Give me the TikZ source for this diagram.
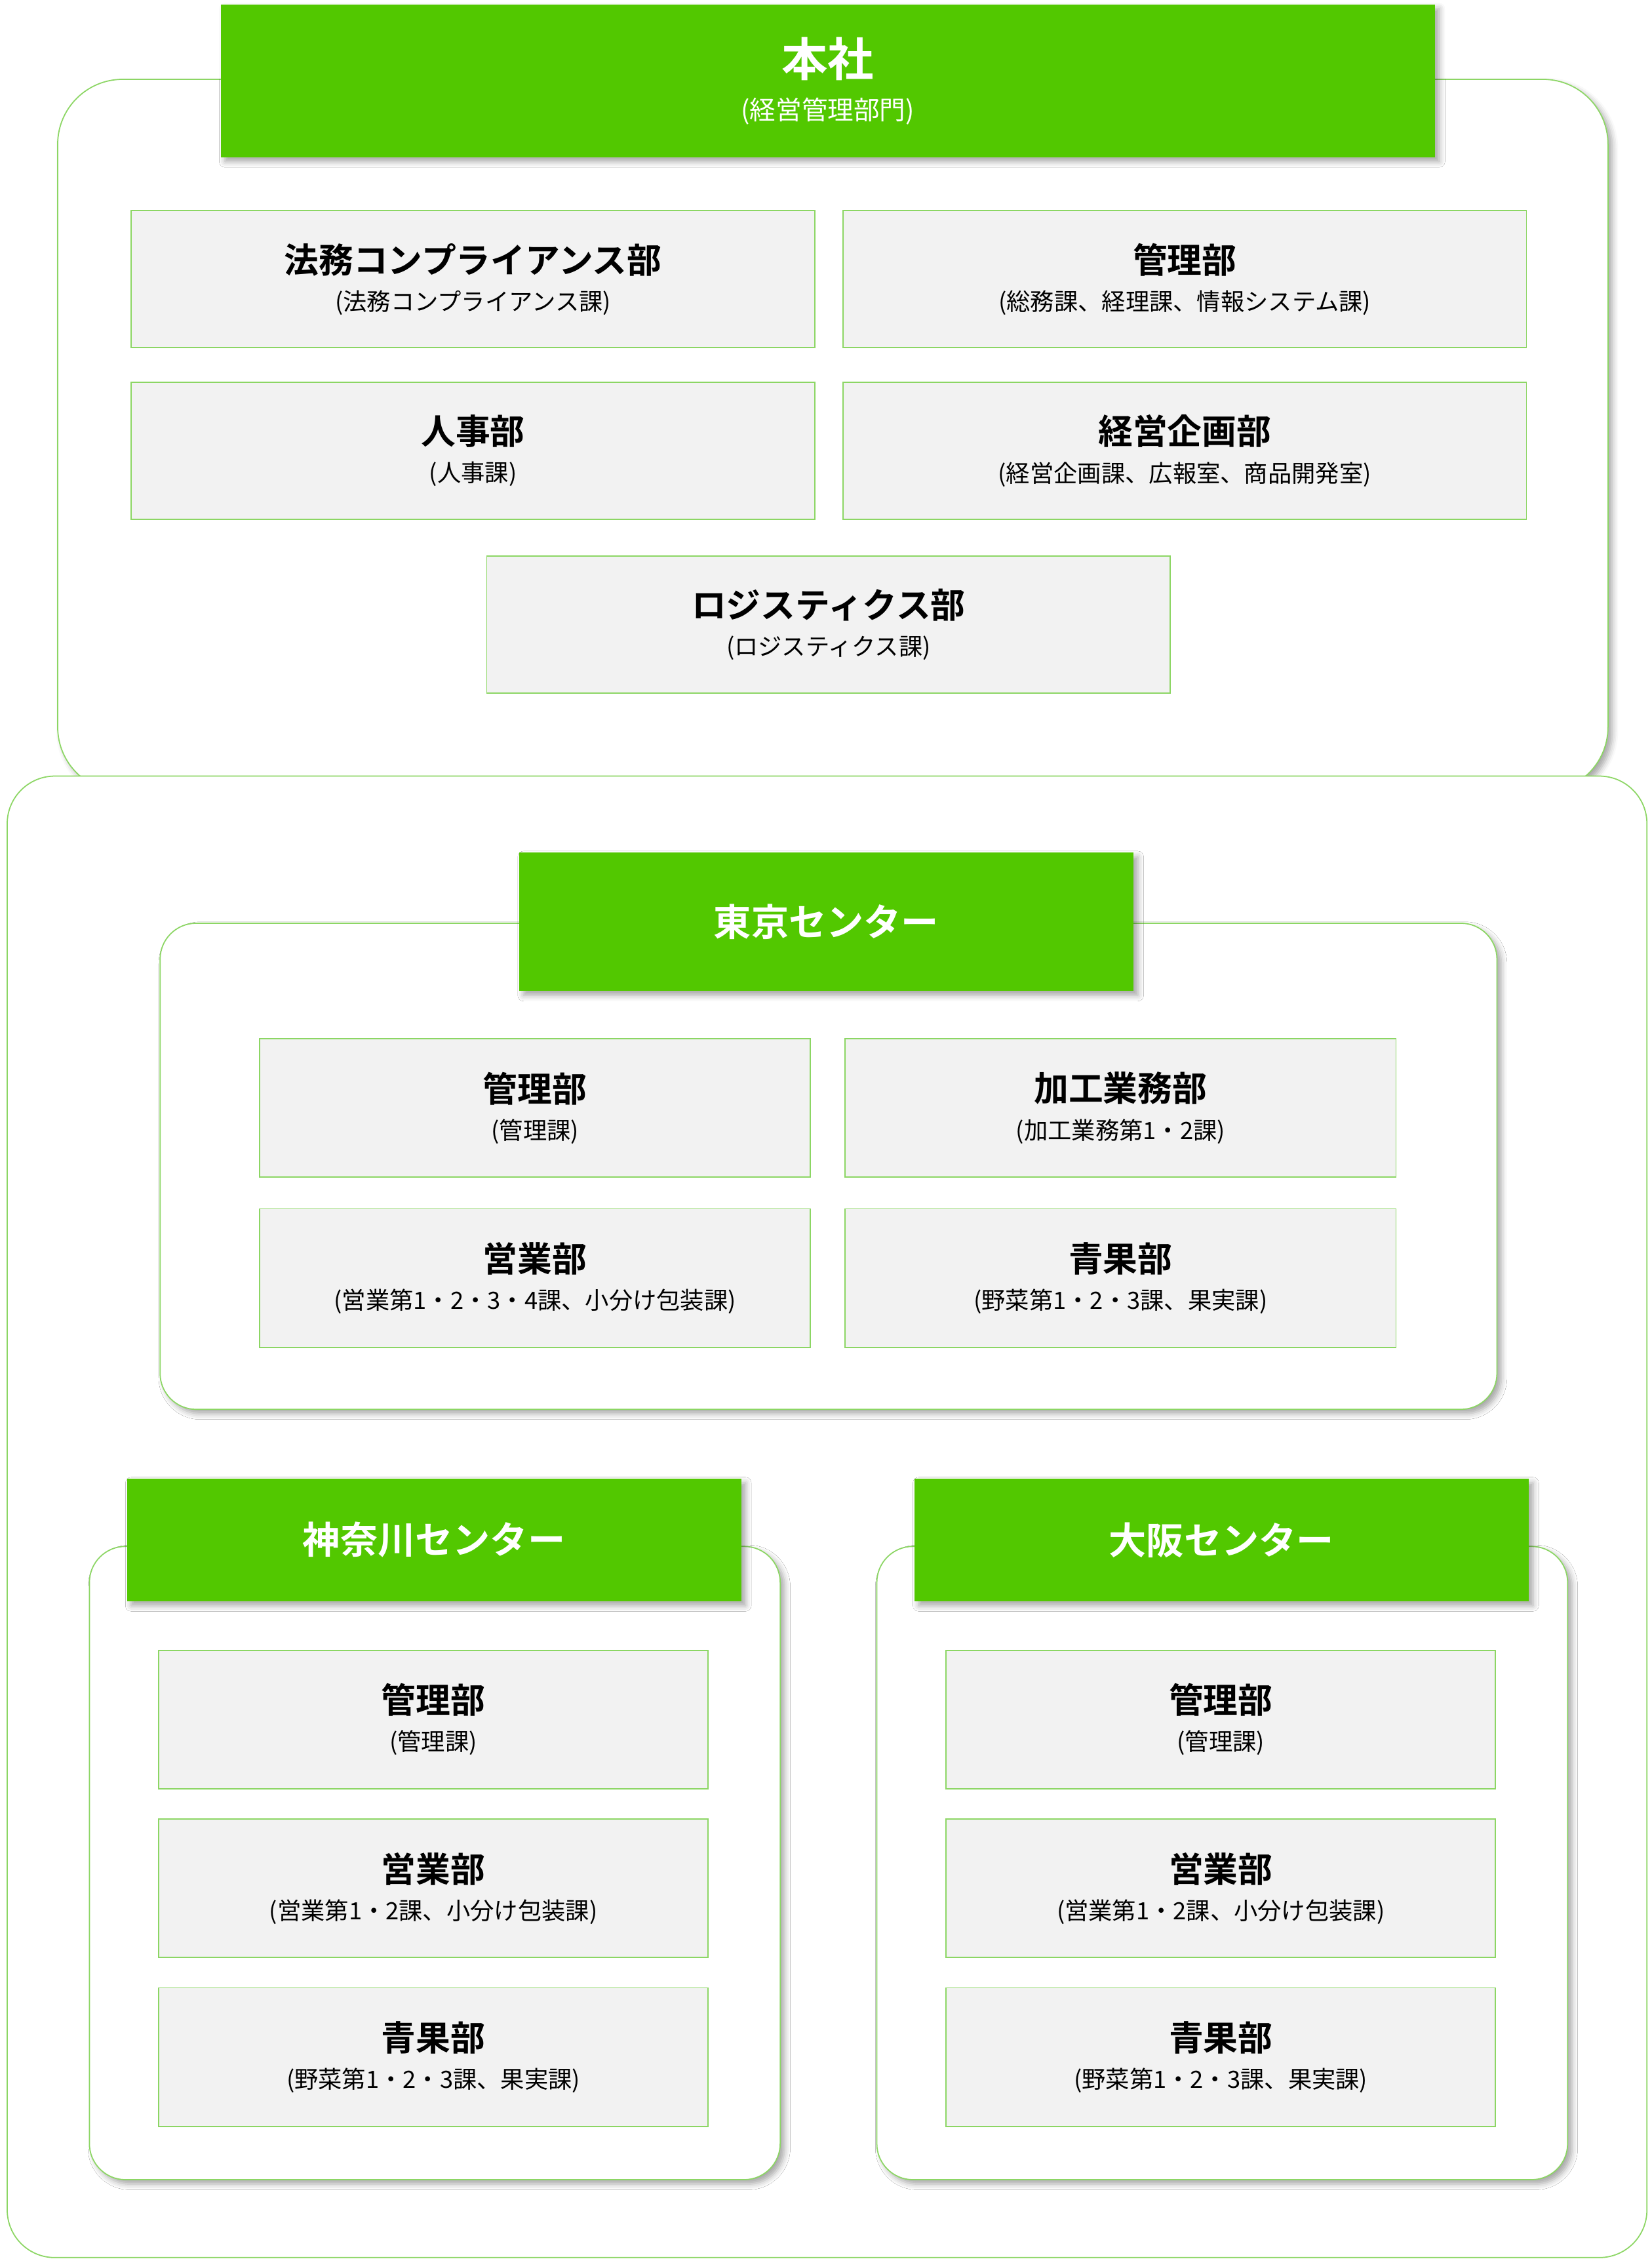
\documentclass[tikz,border=0pt]{standalone}
\usepackage{fontspec}
\usepackage{tikz}
\usetikzlibrary{positioning,shadows.blur}
\newfontfamily\jp{Noto Sans CJK JP}[BoldFont={Noto Sans CJK JP Bold}]
\definecolor{hdgreen}{RGB}{82,200,0}
\definecolor{lngreen}{RGB}{140,214,100}
\definecolor{boxgray}{RGB}{242,242,242}
\newcommand{\hdtx}{\fontsize{24}{25.5}\selectfont\bfseries}
\newcommand{\subtx}{\fontsize{16.5}{26}\selectfont}

\begin{document}
\begin{tikzpicture}[x=1pt,y=-1pt]
\tikzstyle{every node}=[inner sep=0pt,outer sep=0pt,font=\jp];
\tikzstyle{shad}=[blur shadow={shadow xshift=3pt,shadow yshift=-3pt,shadow blur radius=4pt,shadow opacity=35}];
\tikzstyle{frame}=[draw=lngreen,line width=0.8pt,fill=white];
\tikzstyle{header}=[fill=hdgreen,text=white,shad,align=center];
\tikzstyle{dept}=[draw=lngreen,line width=0.8pt,fill=boxgray,align=center,font=\jp\subtx];
\tikzstyle{wide}=[dept,minimum width=474pt,minimum height=95pt];
\tikzstyle{narrow}=[dept,minimum width=382pt,minimum height=96pt];

\useasboundingbox (0,0) rectangle (1145.5,1566);

% head office
\node[frame,shad,rounded corners=45pt,minimum width=1075pt,minimum height=494pt] (hq) at (577.5,302) {};
\node[header,minimum width=842pt,minimum height=106pt,font=\jp\fontsize{18}{30}\selectfont] (hqh) at (574,56)
  {{\fontsize{32}{34}\selectfont\bfseries 本社}\\{(経営管理部門)}};
\node[wide] (legal) at (328,193.5) {{\hdtx 法務コンプライアンス部}\\{(法務コンプライアンス課)}};
\node[wide] (admin) at (821.5,193.5) {{\hdtx 管理部}\\{(総務課、経理課、情報システム課)}};
\node[wide] (hr) at (328,312.5) {{\hdtx 人事部}\\{(人事課)}};
\node[wide] (plan) at (821.5,312.5) {{\hdtx 経営企画部}\\{(経営企画課、広報室、商品開発室)}};
\node[wide] (logi) at (574.5,433) {{\hdtx ロジスティクス部}\\{(ロジスティクス課)}};

% centers
\node[frame,rounded corners=33pt,minimum width=1137pt,minimum height=1027pt] (ctr) at (573.5,1051.5) {};

\node[frame,shad,rounded corners=25pt,minimum width=927pt,minimum height=337pt] (tky) at (574.5,808.5) {};
\node[header,minimum width=426pt,minimum height=96pt,font=\jp\fontsize{26}{28}\selectfont\bfseries] (tkyh) at (573,639) {東京センター};
\node[narrow] (tkya) at (371,768) {{\hdtx 管理部}\\{(管理課)}};
\node[narrow] (tkyb) at (777,768) {{\hdtx 加工業務部}\\{(加工業務第1・2課)}};
\node[narrow] (tkyc) at (371,886) {{\hdtx 営業部}\\{(営業第1・2・3・4課、小分け包装課)}};
\node[narrow] (tkyd) at (777,886) {{\hdtx 青果部}\\{(野菜第1・2・3課、果実課)}};

\foreach \c/\cx/\nm in {kng/301/神奈川センター,osk/847/大阪センター}{
  \node[frame,shad,rounded corners=25pt,minimum width=479pt,minimum height=439pt] (\c) at (\cx+0.5,1291.5) {};
  \node[header,minimum width=426pt,minimum height=85pt,font=\jp\fontsize{26}{28}\selectfont\bfseries] (\c h) at (\cx,1067.5) {\nm};
  \node[narrow,minimum width=381pt] (\c a) at (\cx-0.5,1192) {{\hdtx 管理部}\\{(管理課)}};
  \node[narrow,minimum width=381pt] (\c b) at (\cx-0.5,1309) {{\hdtx 営業部}\\{(営業第1・2課、小分け包装課)}};
  \node[narrow,minimum width=381pt] (\c c) at (\cx-0.5,1426) {{\hdtx 青果部}\\{(野菜第1・2・3課、果実課)}};
}
\end{tikzpicture}
\end{document}
